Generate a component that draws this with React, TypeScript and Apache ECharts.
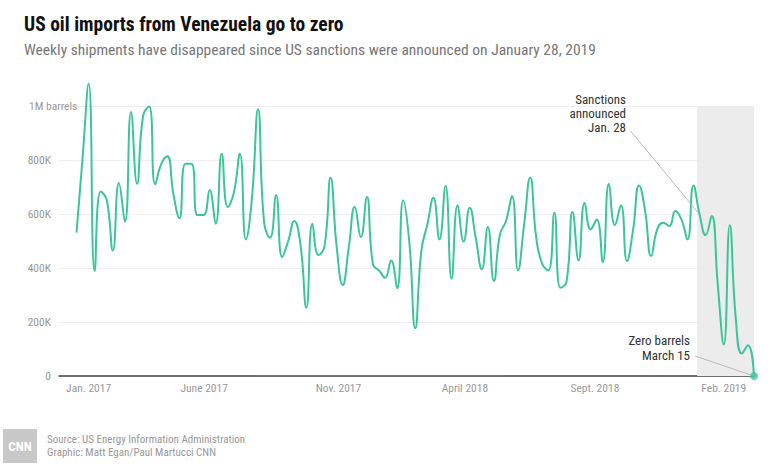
import React, { useEffect, useRef } from 'react';
import * as echarts from 'echarts';

const titleText = 'US oil imports from Venezuela go to zero';
const subtitleText = 'Weekly shipments have disappeared since US sanctions were announced on January 28, 2019';

// Weekly US crude imports from Venezuela, thousand barrels (week index 0..112)
const weeklyImports = [
  531, 809, 1083, 389, 683, 651, 465, 715, 572, 978,
  712, 963, 998, 710, 785, 814, 675, 584, 786, 786,
  596, 596, 688, 564, 823, 626, 679, 823, 506, 660,
  988, 570, 512, 669, 441, 500, 574, 490, 253, 564,
  448, 481, 734, 480, 337, 475, 626, 515, 663, 414,
  391, 364, 428, 325, 651, 500, 177, 463, 562, 660,
  506, 704, 360, 632, 498, 623, 512, 395, 552, 352,
  525, 574, 667, 391, 562, 735, 512, 414, 391, 605,
  327, 349, 607, 428, 642, 543, 580, 422, 712, 559,
  632, 426, 540, 706, 611, 444, 543, 568, 556, 611,
  580, 506, 706, 599, 522, 593, 340, 117, 558, 210,
  83, 114, 0,
];

const tickLabels = ['Jan. 2017', 'June 2017', 'Nov. 2017', 'April 2018', 'Sept. 2018', 'Feb. 2019'];
const tickWeeks = [2, 21.1, 43.3, 64.2, 85.7, 107];
const yMax = 1000;
const yStep = 200;
const sanctionBand = [102.6, 112];
const sanctionNote = ['Sanctions', 'announced', 'Jan. 28'];
const zeroNote = ['Zero barrels', 'March 15'];
const footerLines = ['Source: US Energy Information Administration', 'Graphic: Matt Egan/Paul Martucci CNN'];

const FONT = "'Roboto Condensed','DejaVu Sans Condensed','Liberation Sans Narrow',Roboto,sans-serif";
const LINE = '#3cc59a';

export default function App() {
  const ref = useRef<HTMLDivElement>(null);
  useEffect(() => {
    document.body.style.margin = '0';
    if (!ref.current) return;
    const chart = echarts.init(ref.current, undefined, { renderer: 'svg' });
    const points = weeklyImports.map((v, i) => [i, v]);
    const last = points[points.length - 1];
    chart.setOption({
      animation: false,
      textStyle: { fontFamily: FONT },
      title: {
        text: titleText,
        subtext: subtitleText,
        left: 19,
        top: 9,
        itemGap: 8,
        textStyle: { fontSize: 19.5, fontWeight: 'bold', color: '#111', fontFamily: FONT },
        subtextStyle: { fontSize: 15.5, color: '#777', fontFamily: FONT },
      },
      grid: { left: 59, right: 25, top: 106, bottom: 98 },
      xAxis: {
        type: 'value',
        min: -2.9,
        max: weeklyImports.length - 1,
        axisLine: { show: true, lineStyle: { color: '#444', width: 1.5 } },
        axisTick: { show: false },
        splitLine: { show: false },
        axisLabel: {
          customValues: tickWeeks,
          color: '#999',
          fontSize: 11.5,
          margin: 6,
          fontFamily: FONT,
          formatter: (v: number) => {
            const idx = tickWeeks.indexOf(v);
            return idx >= 0 ? tickLabels[idx] : '';
          },
        },
      },
      yAxis: {
        type: 'value',
        min: 0,
        max: yMax,
        interval: yStep,
        axisLine: { show: false },
        axisTick: { show: false },
        splitLine: { lineStyle: { color: '#eeeeee', width: 1 } },
        axisLabel: {
          color: '#999',
          fontSize: 11.5,
          margin: 8,
          fontFamily: FONT,
          formatter: (v: number) => (v === 0 ? '0' : v === yMax ? '{m|1M barrels}' : v + 'K'),
          rich: { m: { width: 22, align: 'left', color: '#999', fontSize: 11.5, fontFamily: FONT } },
        },
      },
      series: [
        {
          type: 'line',
          data: [],
          z: 1,
          markArea: {
            silent: true,
            itemStyle: { color: '#ececec' },
            data: [[{ xAxis: sanctionBand[0], yAxis: 0 }, { xAxis: sanctionBand[1], yAxis: yMax }]],
          },
        },
        {
          type: 'line',
          data: points,
          z: 3,
          smooth: 0.5,
          showSymbol: false,
          clip: false,
          lineStyle: { color: LINE, width: 2 },
        },
        {
          type: 'scatter',
          data: [last],
          z: 4,
          symbolSize: 8,
          clip: false,
          itemStyle: { color: LINE },
        },
      ],
      graphic: [
        {
          type: 'text', x: 626, y: 113, z: 10,
          style: { text: sanctionNote.join('\n'), align: 'right', verticalAlign: 'middle', fontSize: 13, lineHeight: 14, fill: '#333', fontFamily: FONT },
        },
        { type: 'line', z: 10, shape: { x1: 630.7, y1: 131, x2: 698.3, y2: 213 }, style: { stroke: '#bbb', lineWidth: 1 } },
        {
          type: 'text', x: 690, y: 347.5, z: 10,
          style: { text: zeroNote.join('\n'), align: 'right', verticalAlign: 'middle', fontSize: 13, lineHeight: 15, fill: '#333', fontFamily: FONT },
        },
        { type: 'line', z: 10, shape: { x1: 695, y1: 356, x2: 751, y2: 375 }, style: { stroke: '#bbb', lineWidth: 1 } },
        { type: 'rect', shape: { x: 3, y: 429, width: 34, height: 34 }, style: { fill: '#c8c8c8' } },
        {
          type: 'text', x: 20, y: 446,
          style: { text: 'CNN', align: 'center', verticalAlign: 'middle', fontSize: 13, fontWeight: 'bold', fill: '#fff', fontFamily: FONT },
        },
        {
          type: 'text', x: 47, y: 439,
          style: { text: footerLines[0], verticalAlign: 'middle', fontSize: 11, fill: '#999', fontFamily: FONT },
        },
        {
          type: 'text', x: 47, y: 452.5,
          style: { text: footerLines[1], verticalAlign: 'middle', fontSize: 11, fill: '#999', fontFamily: FONT },
        },
      ],
    });
    return () => chart.dispose();
  }, []);
  return <div ref={ref} style={{ width: 779, height: 474 }} />;
}
